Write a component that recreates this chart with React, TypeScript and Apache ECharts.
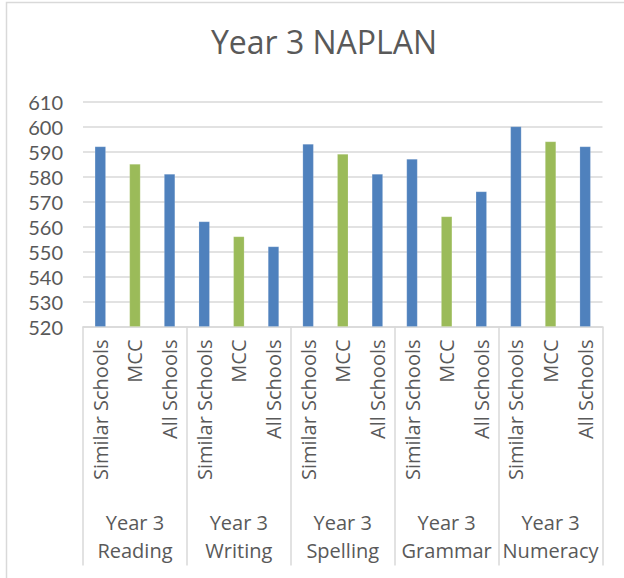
import React, { useEffect, useRef } from "react";
import * as echarts from "echarts";

const titleText = "Year 3 NAPLAN";
const groups = [
  "Year 3\nReading",
  "Year 3\nWriting",
  "Year 3\nSpelling",
  "Year 3\nGrammar",
  "Year 3\nNumeracy",
];
const schoolTypes = ["Similar Schools", "MCC", "All Schools"];
const similarSchools = [592, 562, 593, 587, 600];
const mcc = [585, 556, 589, 564, 594];
const allSchools = [581, 552, 581, 574, 592];
const typeColors = ["#4F81BD", "#9BBB59", "#4F81BD"];
const yMin = 520;
const yMax = 610;
const yStep = 10;

export default function App() {
  const ref = useRef<HTMLDivElement>(null);

  useEffect(() => {
    if (!ref.current) return;
    const chart = echarts.init(ref.current, undefined, { renderer: "svg" });

    const seriesByType = [similarSchools, mcc, allSchools];
    const categories: string[] = [];
    const values: any[] = [];
    groups.forEach((_, gi) => {
      schoolTypes.forEach((t, ti) => {
        categories.push(t);
        values.push({
          value: seriesByType[ti][gi],
          itemStyle: { color: typeColors[ti] },
        });
      });
    });

    const font = "'Open Sans', 'Noto Sans', sans-serif";
    const grey = "#595959";
    const lineGrey = "#d9d9d9";

    chart.setOption({
      animation: false,
      backgroundColor: "#ffffff",
      title: {
        text: titleText,
        left: 319,
        textAlign: "center",
        top: 20,
        textStyle: {
          fontFamily: font,
          fontSize: 32,
          fontWeight: "normal",
          color: grey,
        },
      },
      graphic: [
        {
          type: "rect",
          shape: { x: 6.5, y: 2.5, width: 700, height: 700 },
          style: { fill: "none", stroke: lineGrey, lineWidth: 1.5 },
          silent: true,
        },
      ],
      grid: {
        left: 83,
        right: 21.5,
        top: 101.5,
        height: 225,
        containLabel: false,
      },
      xAxis: [
        {
          type: "category",
          data: categories,
          position: "bottom",
          offset: 0,
          axisLine: { show: true, lineStyle: { color: lineGrey, width: 1.5 } },
          axisTick: { show: false },
          axisLabel: {
            interval: 0,
            rotate: 90,
            margin: 13,
            fontFamily: font,
            fontSize: 20,
            lineHeight: 22,
            color: grey,
          },
        },
        {
          type: "category",
          data: groups,
          position: "bottom",
          offset: 0,
          axisLine: { show: false },
          axisTick: {
            show: true,
            interval: 0,
            length: 239,
            lineStyle: { color: lineGrey, width: 1.5 },
          },
          axisLabel: {
            interval: 0,
            margin: 182,
            fontFamily: font,
            fontSize: 20,
            lineHeight: 28,
            color: grey,
          },
        },
      ],
      yAxis: {
        type: "value",
        min: yMin,
        max: yMax,
        interval: yStep,
        axisLine: { show: false },
        axisTick: { show: false },
        axisLabel: {
          margin: 20,
          fontFamily: "Lato, 'Open Sans', sans-serif",
          fontSize: 20,
          lineHeight: 20,
          color: grey,
        },
        splitLine: { lineStyle: { color: lineGrey, width: 1.5 } },
      },
      series: [
        {
          type: "bar",
          xAxisIndex: 0,
          data: values,
          barWidth: 11,
          itemStyle: { borderColor: "rgba(255,255,255,0.35)", borderWidth: 0.5 },
        },
      ],
    });

    return () => chart.dispose();
  }, []);

  return (
    <div
      ref={ref}
      style={{ position: "fixed", left: 0, top: 0, width: 624, height: 578 }}
    />
  );
}
